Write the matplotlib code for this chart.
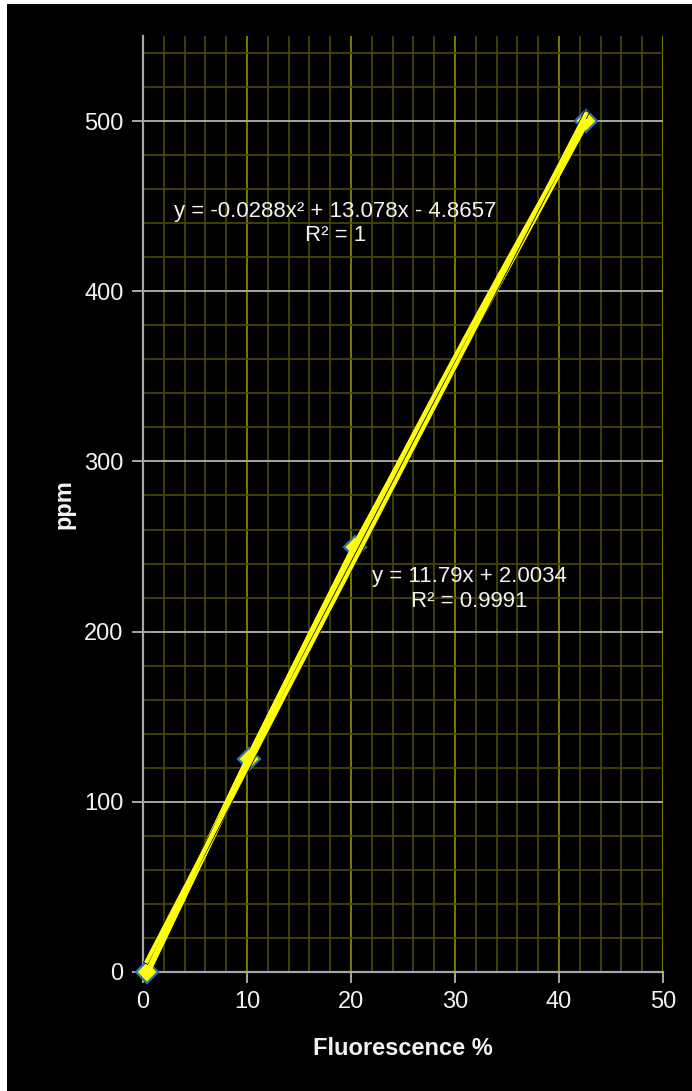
import numpy as np
import matplotlib
matplotlib.use("Agg")
import matplotlib.pyplot as plt
import matplotlib.patheffects as pe
from matplotlib.patches import Rectangle
from matplotlib.ticker import MultipleLocator

plt.rcParams["font.family"] = ["Liberation Sans Narrow", "Liberation Sans", "DejaVu Sans"]

# calibration points
fluor = [0.37, 10.16, 20.4, 42.6]
ppm = [0, 125, 250, 500]

# trendline coefficients as reported on the chart
lin_coef = [11.79, 2.0034]
quad_coef = [-0.0288, 13.078, -4.8657]
lin_label = "y = 11.79x + 2.0034\nR² = 0.9991"
quad_label = "y = -0.0288x² + 13.078x - 4.8657\nR² = 1"

TXT = "#f2f2f2"
GRID_MAJ_Y = "#a6a6a6"
GRID_MAJ_X = "#7a7a00"
GRID_MIN = "#4a4a00"
SPINE = "#a6a6a6"
YEL = "#ffff00"

fig = plt.figure(figsize=(6.92, 10.91), dpi=100, facecolor="white")
# black chart area, leaving a thin white strip at left and top
fig.add_artist(Rectangle((7 / 692, 0), 1, 1 - 4 / 1091, transform=fig.transFigure,
                         facecolor="black", edgecolor="none", zorder=-10))

ax = fig.add_axes([143 / 692, 1 - 972 / 1091, 520 / 692, (972 - 36) / 1091])
ax.set_facecolor("black")
ax.set_xlim(0, 50)
ax.set_ylim(0, 550)

ax.xaxis.set_major_locator(MultipleLocator(10))
ax.xaxis.set_minor_locator(MultipleLocator(2))
ax.yaxis.set_major_locator(MultipleLocator(100))
ax.yaxis.set_minor_locator(MultipleLocator(20))

ax.grid(which="minor", color=GRID_MIN, linewidth=1.2, zorder=1)
ax.grid(which="major", axis="x", color=GRID_MAJ_X, linewidth=1.4, zorder=1)
ax.grid(which="major", axis="y", color=GRID_MAJ_Y, linewidth=1.4, zorder=1)
ax.set_axisbelow(True)

for s in ("top", "right"):
    ax.spines[s].set_visible(False)
for s in ("left", "bottom"):
    ax.spines[s].set_color(SPINE)
    ax.spines[s].set_linewidth(1.6)

ax.tick_params(which="major", direction="out", length=8, width=1.4, color=SPINE,
               labelcolor=TXT, labelsize=17, pad=6)
ax.tick_params(which="minor", length=0)

# data series: yellow line with diamond markers
ax.plot(fluor, ppm, color=YEL, linewidth=5, marker="D", markersize=11,
        markerfacecolor=YEL, markeredgecolor="#2e75b6", markeredgewidth=1.6,
        zorder=3, clip_on=False)
ax.plot(fluor, ppm, color=YEL, linewidth=5, zorder=3.5)

# trendlines over the data range
xs = np.linspace(min(fluor), max(fluor), 100)
ax.plot(xs, np.polyval(lin_coef, xs), color=YEL, linewidth=3,
        path_effects=[pe.Stroke(linewidth=4.2, foreground="black"), pe.Normal()],
        zorder=4)
ax.plot(xs, np.polyval(quad_coef, xs), color=YEL, linewidth=3, zorder=5)

ax.text(18.5, 440, quad_label, color=TXT, fontsize=16, ha="center", va="center",
        linespacing=1.2)
ax.text(31.4, 225, lin_label, color=TXT, fontsize=16, ha="center", va="center",
        linespacing=1.2)

ax.set_xlabel("Fluorescence %", color=TXT, fontsize=17, fontweight="bold", labelpad=17)
ax.set_ylabel("ppm", color=TXT, fontsize=17, fontweight="bold", labelpad=6)

fig.savefig("out.png", dpi=100, facecolor=fig.get_facecolor())
